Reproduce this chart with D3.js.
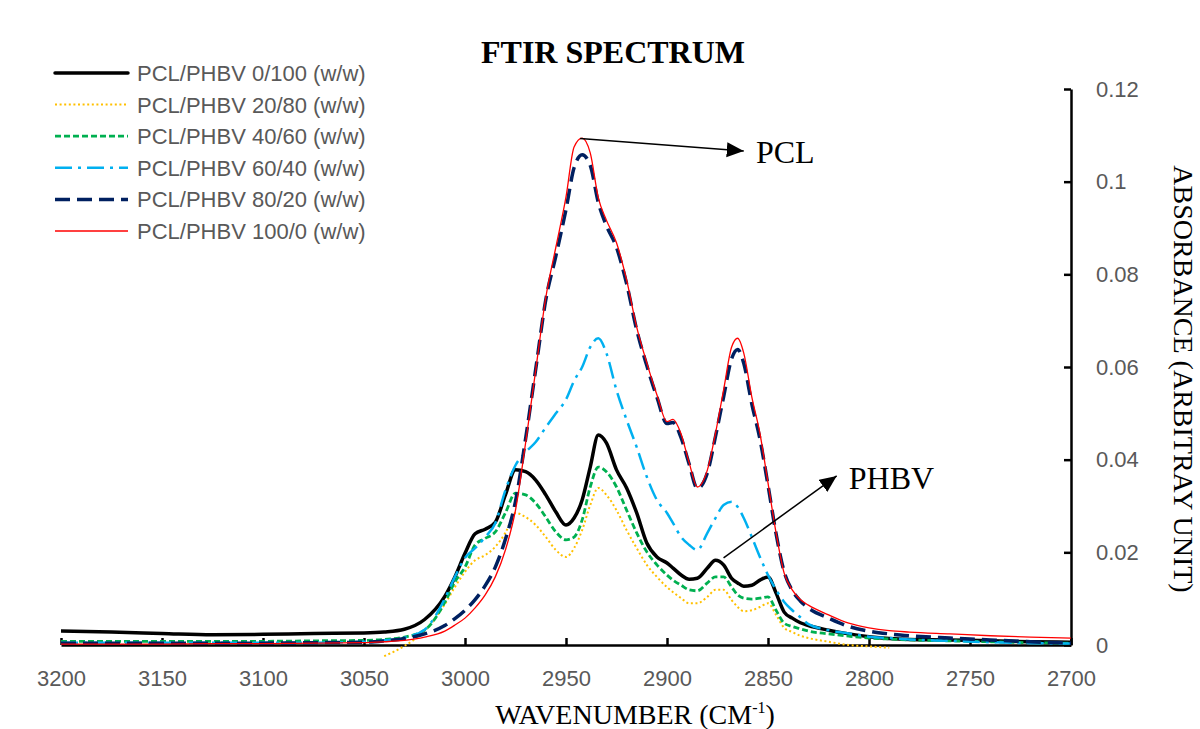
<!DOCTYPE html>
<html>
<head>
<meta charset="utf-8">
<script src="https://cdnjs.cloudflare.com/ajax/libs/d3/7.8.5/d3.min.js"></script>
<style>
body { margin: 0; background: #fff; }
.axis .tick text { font-family: "Liberation Sans", Arial, sans-serif; font-size: 22px; fill: #595959; }
.axis path, .axis line { stroke: #000; stroke-width: 2.5; }
.legend text { font-family: "Liberation Sans", Arial, sans-serif; font-size: 22px; fill: #595959; }
.serif { font-family: "Liberation Serif", "Times New Roman", serif; fill: #000; }
</style>
</head>
<body>
<div id="ftir_chart"></div>
<script>
var wavenumbers = [3200, 3175, 3150, 3125, 3100, 3075, 3050, 3040, 3030, 3020, 3010, 3005, 3000,
	2995, 2990, 2985, 2980, 2975, 2970, 2965, 2960, 2955, 2950,
	2946, 2942, 2938, 2934, 2930, 2925, 2920, 2915, 2910, 2905, 2900,
	2897, 2893, 2889, 2885, 2880, 2876, 2872, 2868, 2865, 2862, 2858, 2854, 2850,
	2846, 2842, 2838, 2834, 2830, 2820, 2810, 2800, 2790, 2780,
	2760, 2740, 2720, 2700];

var pcl0 = [0.0030, 0.0028, 0.0025, 0.0022, 0.0023, 0.0025, 0.0026, 0.0028, 0.0034, 0.0055, 0.0105, 0.0147, 0.0198,
	0.0240, 0.0250, 0.0265, 0.0324, 0.0378, 0.0374, 0.0356, 0.0324, 0.0287, 0.0259,
	0.0274, 0.0313, 0.0384, 0.0453, 0.0436, 0.0378, 0.0339, 0.0285, 0.0220, 0.0190, 0.0177,
	0.0166, 0.0151, 0.0142, 0.0144, 0.0166, 0.0183, 0.0173, 0.0144, 0.0134, 0.0127, 0.0129, 0.0140, 0.0147,
	0.0112, 0.0071, 0.0058, 0.0048, 0.0042, 0.0032, 0.0024, 0.0018, 0.0014, 0.0012,
	0.0011, 0.0009, 0.0007, 0.0006];

var pcl20 = [null, null, null, null, null, null, null, -0.0024, -0.0002, 0.0030, 0.0088, 0.0125, 0.0158,
	0.0183, 0.0194, 0.0212, 0.0242, 0.0285, 0.0276, 0.0259, 0.0233, 0.0205, 0.0190,
	0.0209, 0.0248, 0.0302, 0.0339, 0.0324, 0.0291, 0.0248, 0.0209, 0.0173, 0.0147, 0.0125,
	0.0114, 0.0101, 0.0090, 0.0090, 0.0104, 0.0119, 0.0119, 0.0097, 0.0082, 0.0073, 0.0075, 0.0082, 0.0090,
	0.0065, 0.0037, 0.0028, 0.0020, 0.0015, 0.0007, 0.0000, -0.0003, -0.0006, null,
	null, null, null, null];

var pcl40 = [0.0008, 0.0008, 0.0008, 0.0008, 0.0008, 0.0009, 0.0010, 0.0012, 0.0017, 0.0032, 0.0092, 0.0136, 0.0168,
	0.0216, 0.0230, 0.0244, 0.0285, 0.0328, 0.0324, 0.0306, 0.0276, 0.0244, 0.0227,
	0.0233, 0.0270, 0.0341, 0.0384, 0.0374, 0.0341, 0.0291, 0.0242, 0.0201, 0.0173, 0.0151,
	0.0140, 0.0129, 0.0119, 0.0117, 0.0134, 0.0147, 0.0147, 0.0125, 0.0108, 0.0101, 0.0099, 0.0101, 0.0104,
	0.0075, 0.0047, 0.0040, 0.0035, 0.0030, 0.0024, 0.0019, 0.0015, 0.0013, 0.0011,
	0.0009, 0.0007, 0.0005, 0.0004];

var pcl60 = [0.0005, 0.0005, 0.0005, 0.0005, 0.0005, 0.0005, 0.0007, 0.0010, 0.0016, 0.0033, 0.0100, 0.0147, 0.0188,
	0.0209, 0.0233, 0.0263, 0.0334, 0.0388, 0.0416, 0.0438, 0.0470, 0.0500, 0.0530,
	0.0570, 0.0600, 0.0643, 0.0662, 0.0630, 0.0550, 0.0486, 0.0427, 0.0363, 0.0313, 0.0285,
	0.0263, 0.0233, 0.0216, 0.0205, 0.0242, 0.0274, 0.0302, 0.0309, 0.0298, 0.0274, 0.0233, 0.0190, 0.0151,
	0.0119, 0.0093, 0.0075, 0.0060, 0.0045, 0.0032, 0.0025, 0.0018, 0.0015, 0.0012,
	0.0009, 0.0006, 0.0004, 0.0003];

var pcl80 = [0.0004, 0.0004, 0.0004, 0.0004, 0.0004, 0.0005, 0.0006, 0.0009, 0.0014, 0.0024, 0.0042, 0.0057, 0.0075,
	0.0098, 0.0128, 0.0168, 0.0228, 0.0310, 0.0445, 0.0595, 0.0745, 0.0840, 0.0940,
	0.1030, 0.1058, 0.1035, 0.0955, 0.0905, 0.0858, 0.0780, 0.0680, 0.0603, 0.0535, 0.0478,
	0.0480, 0.0447, 0.0390, 0.0338, 0.0372, 0.0450, 0.0535, 0.0618, 0.0638, 0.0608, 0.0520, 0.0445, 0.0345,
	0.0240, 0.0158, 0.0118, 0.0095, 0.0080, 0.0058, 0.0040, 0.0030, 0.0024, 0.0020,
	0.0015, 0.0011, 0.0007, 0.0004];

var pcl100 = [0.0002, 0.0002, 0.0002, 0.0003, 0.0003, 0.0004, 0.0005, 0.0007, 0.0010, 0.0017, 0.0030, 0.0043, 0.0058,
	0.0080, 0.0108, 0.0147, 0.0205, 0.0291, 0.0436, 0.0593, 0.0750, 0.0859, 0.0967,
	0.1075, 0.1094, 0.1062, 0.0965, 0.0917, 0.0868, 0.0788, 0.0686, 0.0609, 0.0540, 0.0482,
	0.0487, 0.0455, 0.0393, 0.0341, 0.0378, 0.0457, 0.0550, 0.0643, 0.0662, 0.0630, 0.0535, 0.0457, 0.0350,
	0.0242, 0.0155, 0.0119, 0.0098, 0.0086, 0.0065, 0.0047, 0.0037, 0.0031, 0.0028,
	0.0024, 0.0020, 0.0017, 0.0015];

var seriesNames = ["PCL/PHBV 0/100 (w/w)", "PCL/PHBV 20/80 (w/w)", "PCL/PHBV 40/60 (w/w)",
	"PCL/PHBV 60/40 (w/w)", "PCL/PHBV 80/20 (w/w)", "PCL/PHBV 100/0 (w/w)"];
var seriesValues = [pcl0, pcl20, pcl40, pcl60, pcl80, pcl100];

var xTicks = [3200, 3150, 3100, 3050, 3000, 2950, 2900, 2850, 2800, 2750, 2700];
var yTicks = [0, 0.02, 0.04, 0.06, 0.08, 0.1, 0.12];

// line looks, one per series (Excel style)
var lineStyles = [
	{ color: "#000000", width: 3.5, dash: null, cap: "round" },
	{ color: "#FFC000", width: 2, dash: "2,2.6", cap: "butt" },
	{ color: "#00B050", width: 2.8, dash: "6,3", cap: "butt" },
	{ color: "#00B0F0", width: 2.5, dash: "17,6,3,6", cap: "butt" },
	{ color: "#002060", width: 3.5, dash: "15,7", cap: "butt" },
	{ color: "#FF0000", width: 1.3, dash: null, cap: "butt" }
];

// arrows and labels pointing at peaks, in data units
var annotations = [
	{ label: "PCL", from: [2943, 0.1093], to: [2862, 0.1066], text: [2856, 0.1040] },
	{ label: "PHBV", from: [2872, 0.0188], to: [2816, 0.0365], text: [2810, 0.0336] }
];

function drawFtirChart(htmlSelector) {
	var width = 1200, height = 729;
	var plotLeft = 61, plotRight = 1071, plotTop = 89, plotBottom = 645;

	var x = d3.scaleLinear().domain([3200, 2700]).range([plotLeft, plotRight]);
	var y = d3.scaleLinear().domain([0, 0.12]).range([plotBottom, plotTop]);

	var svg = d3.select(htmlSelector).append("svg")
			.attr("width", width)
			.attr("height", height);

	var defs = svg.append("defs");
	defs.append("clipPath")
			.attr("id", "plot_clip")
		.append("rect")
			.attr("x", plotLeft)
			.attr("y", plotTop - 10)
			.attr("width", plotRight - plotLeft)
			.attr("height", plotBottom - plotTop + 23);

	defs.append("marker")
			.attr("id", "arrow_head")
			.attr("markerUnits", "userSpaceOnUse")
			.attr("markerWidth", 18)
			.attr("markerHeight", 16)
			.attr("refX", 17)
			.attr("refY", 7.5)
			.attr("orient", "auto")
		.append("path")
			.attr("d", "M0,0L17,7.5L0,15Z")
			.attr("fill", "#000");

	// axes
	var xAxis = d3.axisBottom(x)
			.tickValues(xTicks)
			.tickFormat(d3.format("d"))
			.tickSizeInner(-7)
			.tickSizeOuter(0)
			.tickPadding(33);

	var yAxis = d3.axisRight(y)
			.tickValues(yTicks)
			.tickFormat(function(d) { return d === 0 ? "0" : String(+d.toFixed(2)); })
			.tickSizeInner(-7)
			.tickSizeOuter(0)
			.tickPadding(25);

	svg.append("g")
			.attr("class", "x axis")
			.attr("transform", "translate(0," + plotBottom + ")")
			.call(xAxis)
			.selectAll(".tick text").attr("dy", "0.35em");

	svg.append("g")
			.attr("class", "y axis")
			.attr("transform", "translate(" + plotRight + ",0)")
			.call(yAxis);

	// spectra
	var line = d3.line()
			.defined(function(d) { return d[1] !== null; })
			.x(function(d) { return x(d[0]); })
			.y(function(d) { return y(d[1]); })
			.curve(d3.curveMonotoneX);

	var plot = svg.append("g").attr("clip-path", "url(#plot_clip)");

	seriesValues.forEach(function(values, i) {
		var s = lineStyles[i];
		var points = wavenumbers.map(function(w, j) { return [w, values[j]]; });
		plot.append("path")
				.datum(points)
				.attr("d", line)
				.attr("fill", "none")
				.attr("stroke", s.color)
				.attr("stroke-width", s.width)
				.attr("stroke-linecap", s.cap)
				.attr("stroke-linejoin", "round")
				.attr("stroke-dasharray", s.dash);
	});

	// legend
	var legend = svg.append("g").attr("class", "legend");
	seriesNames.forEach(function(name, i) {
		var s = lineStyles[i];
		var rowY = 73 + i * 31.6;
		legend.append("line")
				.attr("x1", 55)
				.attr("x2", 128)
				.attr("y1", rowY)
				.attr("y2", rowY)
				.attr("stroke", s.color)
				.attr("stroke-width", s.width)
				.attr("stroke-linecap", s.cap)
				.attr("stroke-dasharray", s.dash);
		legend.append("text")
				.attr("x", 137)
				.attr("y", rowY + 8)
				.text(name);
	});

	// annotations
	annotations.forEach(function(a) {
		svg.append("line")
				.attr("x1", x(a.from[0]))
				.attr("y1", y(a.from[1]))
				.attr("x2", x(a.to[0]))
				.attr("y2", y(a.to[1]))
				.attr("stroke", "#000")
				.attr("stroke-width", 1.5)
				.attr("marker-end", "url(#arrow_head)");
		svg.append("text")
				.attr("class", "serif")
				.attr("x", x(a.text[0]))
				.attr("y", y(a.text[1]))
				.style("font-size", "32px")
				.text(a.label);
	});

	// titles
	svg.append("text")
			.attr("class", "serif")
			.attr("x", 613)
			.attr("y", 63)
			.attr("text-anchor", "middle")
			.style("font-size", "32px")
			.style("font-weight", "bold")
			.text("FTIR SPECTRUM");

	var xTitle = svg.append("text")
			.attr("class", "serif")
			.attr("x", 635)
			.attr("y", 724)
			.attr("text-anchor", "middle")
			.style("font-size", "28px");
	xTitle.append("tspan").text("WAVENUMBER (CM");
	xTitle.append("tspan").attr("dy", -11).style("font-size", "16px").text("-1");
	xTitle.append("tspan").attr("dy", 11).text(")");

	svg.append("text")
			.attr("class", "serif")
			.attr("transform", "translate(1174,379) rotate(90)")
			.attr("text-anchor", "middle")
			.style("font-size", "28px")
			.text("ABSORBANCE (ARBITRAY UNIT)");
}

drawFtirChart("#ftir_chart");
</script>
</body>
</html>
